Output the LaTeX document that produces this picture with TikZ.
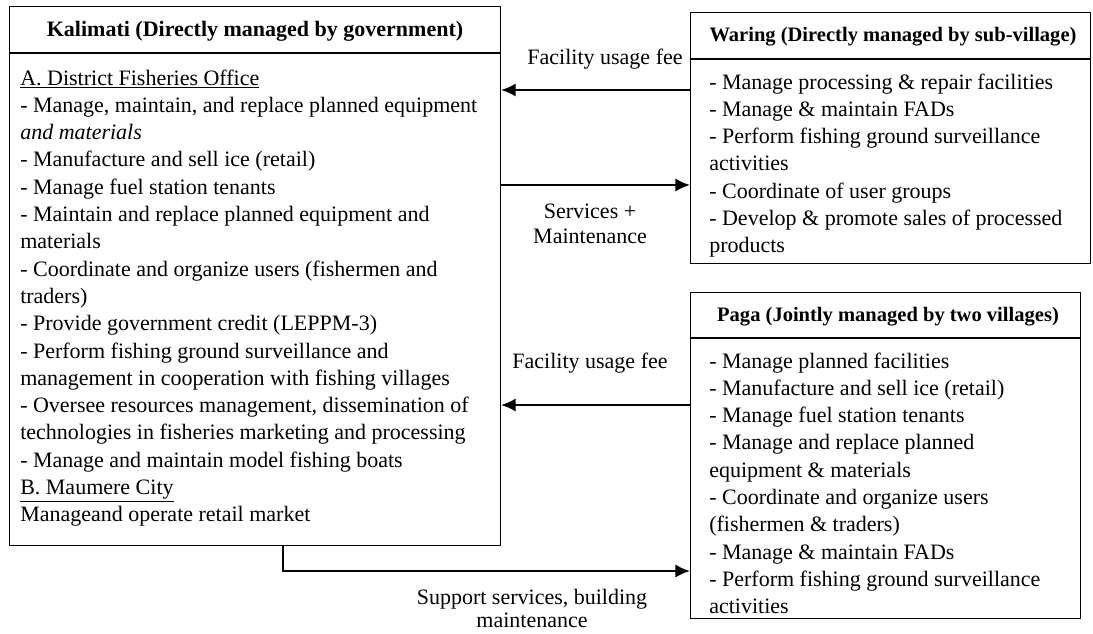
\documentclass[tikz,border=0pt]{standalone}
\usepackage{fontspec}
\setmainfont{Liberation Serif}
\usetikzlibrary{arrows.meta}
\tikzset{
 box/.style={draw, line width=0.8pt, rectangle, inner sep=0pt, anchor=north west},
 sep/.style={line width=0.8pt},
 txt/.style={inner sep=0pt, anchor=base west, font=\fontsize{16.5}{20}\selectfont},
 hdr/.style={inner sep=0pt, anchor=base, font=\bfseries\fontsize{16.5}{20}\selectfont},
 hdrs/.style={inner sep=0pt, anchor=base, font=\bfseries\fontsize{15.4}{19}\selectfont},
 lbl/.style={inner sep=0pt, anchor=base, font=\fontsize{16.5}{20}\selectfont},
 arr/.style={line width=1.6pt, -{Latex[length=11pt,width=10pt]}},
}
\begin{document}
\begin{tikzpicture}[x=0.75pt,y=-0.75pt]
\useasboundingbox (0,0) rectangle (1093,633);
% boxes
\node[box, minimum width=368.25pt, minimum height=404.25pt] (kal) at (9,6) {};
\node[box, minimum width=300pt, minimum height=188.25pt] (wr) at (690,12) {};
\node[box, minimum width=292.5pt, minimum height=244.5pt] (pg) at (690,292) {};
% header separators
\draw[sep] (kal.west |- 0,53) -- (kal.east |- 0,53);
\draw[sep] (wr.west |- 0,59) -- (wr.east |- 0,59);
\draw[sep] (pg.west |- 0,338) -- (pg.east |- 0,338);
% headers
\node[hdr] (kalh) at (255,36) {Kalimati (Directly managed by government)};
\node[hdrs] (wrh) at (893,41) {Waring (Directly managed by sub-village)};
\node[hdrs] (pgh) at (888,321) {Paga (Jointly managed by two villages)};
% bodies
\foreach \t [count=\i] in {
 {\underline{A. District Fisheries Office}},
 {- Manage, maintain, and replace planned equipment},
 {\textit{and materials}},
 {- Manufacture and sell ice (retail)},
 {- Manage fuel station tenants},
 {- Maintain and replace planned equipment and},
 {materials},
 {- Coordinate and organize users (fishermen and},
 {traders)},
 {- Provide government credit (LEPPM-3)},
 {- Perform fishing ground surveillance and},
 {management in cooperation with fishing villages},
 {- Oversee resources management, dissemination of},
 {technologies in fisheries marketing and processing},
 {- Manage and maintain model fishing boats},
 {\underline{B. Maumere City}},
 {Manageand operate retail market}}
 \node[txt] (k\i) at (20,{85+(\i-1)*27.3}) {\t};
\foreach \t [count=\i] in {
 {- Manage processing \& repair facilities},
 {- Manage \& maintain FADs},
 {- Perform fishing ground surveillance},
 {activities},
 {- Coordinate of user groups},
 {- Develop \& promote sales of processed},
 {products}}
 \node[txt] (w\i) at (709,{89+(\i-1)*27.3}) {\t};
\foreach \t [count=\i] in {
 {- Manage planned facilities},
 {- Manufacture and sell ice (retail)},
 {- Manage fuel station tenants},
 {- Manage and replace planned},
 {equipment \& materials},
 {- Coordinate and organize users},
 {(fishermen \& traders)},
 {- Manage \& maintain FADs},
 {- Perform fishing ground surveillance},
 {activities}}
 \node[txt] (p\i) at (709,{368+(\i-1)*27.3}) {\t};
% connectors
\draw[arr] (wr.west |- 0,90) -- (kal.east |- 0,90);
\draw[arr] (kal.east |- 0,185) -- (wr.west |- 0,185);
\draw[arr] (pg.west |- 0,405) -- (kal.east |- 0,405);
\draw[arr] (kal.south -| 283,0) |- (pg.west |- 0,571);
% labels
\node[lbl] (fee1) at (605,64) {Facility usage fee};
\node[lbl] (sm1) at (590,218) {Services +};
\node[lbl] (sm2) at (590,243) {Maintenance};
\node[lbl] (fee2) at (590,368) {Facility usage fee};
\node[lbl] (sup1) at (532,604) {Support services, building};
\node[lbl] (sup2) at (532,627) {maintenance};
\end{tikzpicture}
\end{document}
